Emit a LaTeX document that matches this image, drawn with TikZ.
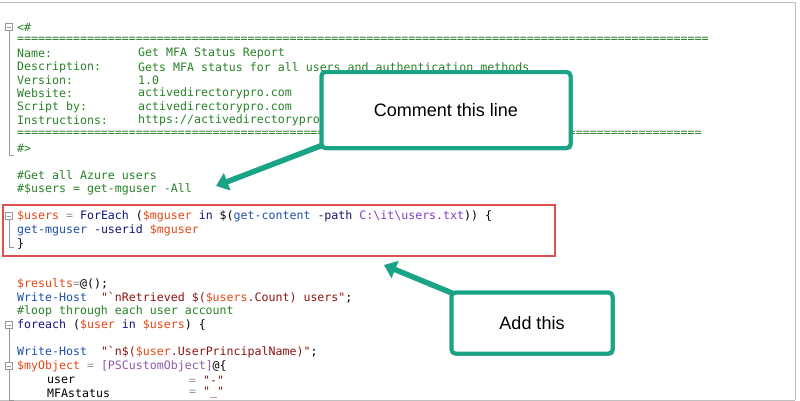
\documentclass[tikz,border=0pt]{standalone}
\usepackage{fontspec}
\setmainfont{Liberation Sans}
\newfontfamily\codefont{DejaVu Sans Mono}
\usetikzlibrary{arrows.meta,shadows}
\definecolor{cmt}{RGB}{40,130,40}
\definecolor{var}{RGB}{230,70,20}
\definecolor{cmd}{RGB}{30,80,170}
\definecolor{kw}{RGB}{20,20,130}
\definecolor{str}{RGB}{140,20,20}
\definecolor{par}{RGB}{20,20,110}
\definecolor{op}{RGB}{150,150,150}
\definecolor{pth}{RGB}{130,60,200}
\definecolor{typ}{RGB}{140,90,170}
\definecolor{tealc}{RGB}{26,164,134}
\definecolor{redb}{RGB}{222,80,80}
\definecolor{fold}{RGB}{150,150,150}
\newcommand{\C}[2]{\textcolor{#1}{#2}}
\newcommand{\BT}{\symbol{96}}
\begin{document}
\begin{tikzpicture}[x=1pt,y=-1pt,
  code/.style={anchor=west,inner sep=0pt,font=\codefont\fontsize{11.6}{13}\selectfont},
  callout/.style={draw=tealc,line width=4pt,rounded corners=4pt,fill=white,
    drop shadow={shadow xshift=2pt,shadow yshift=-2pt,opacity=0.35},
    font=\fontsize{18}{20}\selectfont,inner sep=0pt},
  conn/.style={draw=tealc,line width=5.5pt,-{Triangle[length=12pt,width=18pt]}},
  foldbox/.style={draw=fold,line width=0.6pt,fill=white,minimum size=7pt,inner sep=0pt},
  foldline/.style={draw=fold,line width=0.6pt}]
\useasboundingbox (0,0) rectangle (800,400);
\fill[white] (0,0) rectangle (800,400);
\draw[gray!50,line width=1pt] (0,2) -- (795,2) -- (795,400);
\draw[gray!50,line width=1pt] (0,400) -- (795,400);

% fold markers
\foreach \yy/\ye in {27/155,216/247,325/400}{
  \draw[foldline] (9,\yy) -- (9,\ye) -- (14,\ye);
}
\draw[foldline] (9,366) -- (9,400);
\foreach \yy/\nm in {27/fa,216/fb,325/fc,366/fd}{
  \node[foldbox] (\nm) at (9,\yy) {};
  \draw[fold,line width=0.6pt] ([xshift=1.5pt]\nm.west) -- ([xshift=-1.5pt]\nm.east);
}

% header comment
\node[code] (l1) at (17,27) {\C{cmt}{<\#}};
\node[code] (l2) at (17,40) {\C{cmt}{===================================================================================================}};
\node[code] (k3) at (17,53) {\C{cmt}{Name:}};
\node[code] (v3) at (138,53) {\C{cmt}{Get MFA Status Report}};
\node[code] (k4) at (17,67) {\C{cmt}{Description:}};
\node[code] (v4) at (138,67) {\C{cmt}{Gets MFA status for all users and authentication methods}};
\node[code] (k5) at (17,80) {\C{cmt}{Version:}};
\node[code] (v5) at (138,80) {\C{cmt}{1.0}};
\node[code] (k6) at (17,93) {\C{cmt}{Website:}};
\node[code] (v6) at (138,93) {\C{cmt}{activedirectorypro.com}};
\node[code] (k7) at (17,107) {\C{cmt}{Script by:}};
\node[code] (v7) at (138,107) {\C{cmt}{activedirectorypro.com}};
\node[code] (k8) at (17,120) {\C{cmt}{Instructions:}};
\node[code] (v8) at (138,120) {\C{cmt}{https://activedirectorypro.com/}};
\node[code] (l9) at (17,134) {\C{cmt}{==================================================================================================}};
\node[code] (l10) at (17,148) {\C{cmt}{\#>}};

\node[code] (l11) at (17,175) {\C{cmt}{\#Get all Azure users}};
\node[code] (l12) at (17,189) {\C{cmt}{\#\$users = get-mguser -All}};

\node[code] (l13) at (17,216) {\C{var}{\$users} \C{op}{=} \C{kw}{ForEach} (\C{var}{\$mguser} \C{kw}{in} \$(\C{cmd}{get-content} \C{par}{-path} \C{pth}{C:\textbackslash it\textbackslash users.txt})) \{};
\node[code] (l14) at (17,230) {\C{cmd}{get-mguser} \C{par}{-userid} \C{var}{\$mguser}};
\node[code] (l15) at (17,244) {\}};
\draw[redb,line width=2pt] (3,205) rectangle (555,256);

\node[code] (l16) at (17,284) {\C{var}{\$results}\C{op}{=}@();};
\node[code] (l17) at (17,298) {\C{cmd}{Write-Host}\ \ \C{str}{"\BT nRetrieved \$(\C{var}{\$users}.Count) users"};};
\node[code] (l18) at (17,311) {\C{cmt}{\#loop through each user account}};
\node[code] (l19) at (17,325) {\C{kw}{foreach} (\C{var}{\$user} \C{kw}{in} \C{var}{\$users}) \{};
\node[code] (l20) at (17,352) {\C{cmd}{Write-Host}\ \ \C{str}{"\BT n\$(\C{var}{\$user}.UserPrincipalName)"};};
\node[code] (l21) at (17,366) {\C{var}{\$myObject} \C{op}{=} \C{typ}{[PSCustomObject]}@\{};
\node[code] (k22) at (47,380) {user};
\node[code] (v22) at (189,380) {\C{op}{=} \C{str}{"-"}};
\node[code] (k23) at (47,393) {MFAstatus};
\node[code] (v23) at (189,393) {\C{op}{=} \C{str}{"\_"}};

% callouts
\coordinate (t1) at (216,186);
\coordinate (t2) at (384,265);
\node[callout,minimum width=249pt,minimum height=76pt] (c1) at (446,110) {};
\node[callout,minimum width=161pt,minimum height=61pt] (c2) at (532,323) {};
\draw[conn] ([xshift=6pt,yshift=6pt]c1.south west) -- (t1);
\draw[conn] ([xshift=6pt,yshift=-4pt]c2.north west) -- (t2);
\node[callout,minimum width=249pt,minimum height=76pt] (c1b) at (446,110) {Comment this line};
\node[callout,minimum width=161pt,minimum height=61pt] (c2b) at (532,323) {Add this};
\end{tikzpicture}
\end{document}
